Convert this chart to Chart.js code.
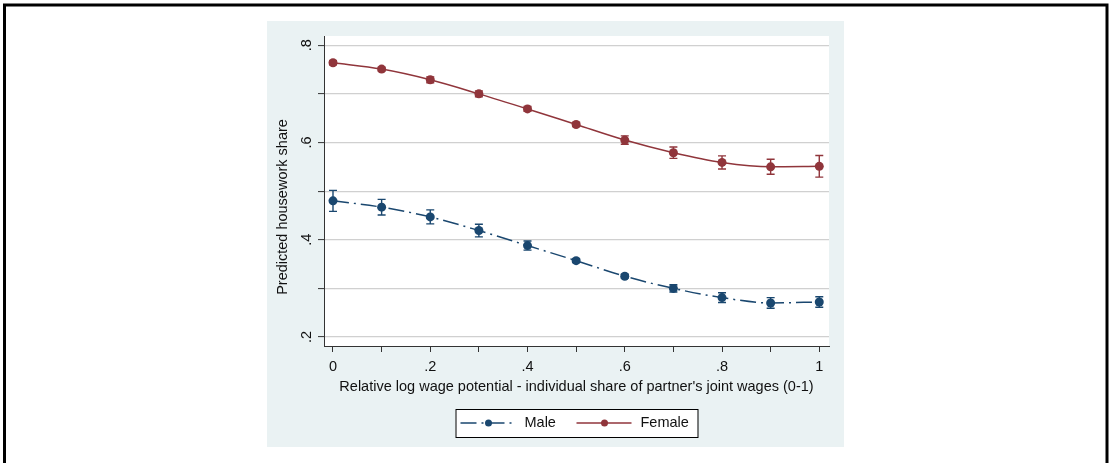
<!DOCTYPE html>
<html>
<head>
<meta charset="utf-8">
<script src="https://cdn.jsdelivr.net/npm/chart.js@4"></script>
<style>
  html, body { margin: 0; padding: 0; background: #fff; }
  canvas { display: block; }
</style>
</head>
<body>
<canvas id="chart" width="1109" height="463"></canvas>
<script>
// data
const xValues = [0, 0.1, 0.2, 0.3, 0.4, 0.5, 0.6, 0.7, 0.8, 0.9, 1];
const maleMean = [0.480, 0.467, 0.447, 0.419, 0.388, 0.357, 0.325, 0.300, 0.281, 0.270, 0.272];
const maleErr = [0.0216, 0.016, 0.0144, 0.013, 0.0093, 0.004, 0.004, 0.0075, 0.010, 0.011, 0.0107];
const femaleMean = [0.764, 0.751, 0.729, 0.700, 0.669, 0.637, 0.605, 0.579, 0.559, 0.550, 0.551];
const femaleErr = [0.004, 0.004, 0.006, 0.006, 0.005, 0.004, 0.0086, 0.0117, 0.0134, 0.0154, 0.0223];

const xTickValues = [0, 0.1, 0.2, 0.3, 0.4, 0.5, 0.6, 0.7, 0.8, 0.9, 1];
const xTickLabels = ['0', '', '.2', '', '.4', '', '.6', '', '.8', '', '1'];
const yTickValues = [0.2, 0.3, 0.4, 0.5, 0.6, 0.7, 0.8];
const yLabelValues = [0.2, 0.4, 0.6, 0.8];
const yLabelTexts = ['.2', '.4', '.6', '.8'];

const seriesNames = ['Male', 'Female'];
const xTitle = "Relative log wage potential - individual share of partner's joint wages (0-1)";
const yTitle = 'Predicted housework share';

const NAVY = 'rgb(26,71,111)';
const CRANBERRY = 'rgb(144,53,59)';
const PANEL = 'rgb(234,242,243)';
const FONT = "'Liberation Sans', Arial, sans-serif";
const FSIZE = 14.5;
const maleDash = [16, 5, 2, 5];

const points = arr => arr.map((v, i) => ({ x: xValues[i], y: v }));

// panel, frame, error bars, rotated y labels and the boxed legend
const stataLook = {
  id: 'stataLook',
  beforeDraw(chart) {
    const ctx = chart.ctx;
    const a = chart.chartArea;
    ctx.save();
    ctx.fillStyle = '#fff';
    ctx.fillRect(0, 0, chart.width, chart.height);
    ctx.fillStyle = PANEL;
    ctx.fillRect(267, 21, 577, 426);
    ctx.fillStyle = '#fff';
    ctx.fillRect(a.left, a.top, a.right - a.left, a.bottom - a.top);
    ctx.strokeStyle = '#000';
    ctx.lineWidth = 3;
    ctx.strokeRect(4.5, 5, 1102.5, 480);
    ctx.restore();
  },
  beforeDatasetsDraw(chart) {
    const ctx = chart.ctx;
    const xs = chart.scales.x, ys = chart.scales.y;
    ctx.save();
    chart.data.datasets.forEach(ds => {
      ctx.strokeStyle = ds.borderColor;
      ctx.lineWidth = 1.4;
      ds.data.forEach((p, i) => {
        const px = xs.getPixelForValue(p.x);
        const lo = ys.getPixelForValue(p.y - ds.err[i]);
        const hi = ys.getPixelForValue(p.y + ds.err[i]);
        ctx.beginPath();
        ctx.moveTo(px, lo); ctx.lineTo(px, hi);
        ctx.moveTo(px - 4, lo); ctx.lineTo(px + 4, lo);
        ctx.moveTo(px - 4, hi); ctx.lineTo(px + 4, hi);
        ctx.stroke();
      });
    });
    ctx.restore();
  },
  afterDraw(chart) {
    const ctx = chart.ctx;
    const a = chart.chartArea;
    const ys = chart.scales.y;
    ctx.save();
    ctx.fillStyle = '#111';
    ctx.font = FSIZE + 'px ' + FONT;
    ctx.textAlign = 'center';
    ctx.textBaseline = 'middle';
    yLabelValues.forEach((v, i) => {
      ctx.save();
      ctx.translate(a.left - 17, ys.getPixelForValue(v));
      ctx.rotate(-Math.PI / 2);
      ctx.fillText(yLabelTexts[i], 0, 0);
      ctx.restore();
    });
    ctx.save();
    ctx.translate(a.left - 41, (a.top + a.bottom) / 2 + 16);
    ctx.rotate(-Math.PI / 2);
    ctx.fillText(yTitle, 0, 0);
    ctx.restore();

    // legend box
    const cx = (a.left + a.right) / 2;
    const bx = cx - 121, by = 409, bw = 242, bh = 28;
    const my = by + bh / 2;
    ctx.fillStyle = '#fff';
    ctx.fillRect(bx, by, bw, bh);
    ctx.strokeStyle = '#000';
    ctx.lineWidth = 1;
    ctx.strokeRect(bx + 0.5, by + 0.5, bw, bh);
    const items = [
      { color: NAVY, dash: maleDash, x0: bx + 5, text: seriesNames[0] },
      { color: CRANBERRY, dash: [], x0: bx + 121, text: seriesNames[1] }
    ];
    items.forEach(it => {
      ctx.strokeStyle = it.color;
      ctx.lineWidth = 1.5;
      ctx.setLineDash(it.dash);
      ctx.beginPath();
      ctx.moveTo(it.x0, my); ctx.lineTo(it.x0 + 55, my);
      ctx.stroke();
      ctx.setLineDash([]);
      ctx.fillStyle = it.color;
      ctx.beginPath();
      ctx.arc(it.x0 + 28, my, 3.5, 0, Math.PI * 2);
      ctx.fill();
      ctx.fillStyle = '#111';
      ctx.textAlign = 'left';
      ctx.fillText(it.text, it.x0 + 64, my);
    });
    ctx.restore();
  }
};

new Chart(document.getElementById('chart'), {
  type: 'line',
  data: {
    datasets: [
      {
        label: seriesNames[0],
        data: points(maleMean),
        err: maleErr,
        borderColor: NAVY,
        backgroundColor: NAVY,
        borderWidth: 1.5,
        borderDash: maleDash,
        pointRadius: 4.5,
        pointBorderWidth: 0,
        cubicInterpolationMode: 'monotone',
        fill: false
      },
      {
        label: seriesNames[1],
        data: points(femaleMean),
        err: femaleErr,
        borderColor: CRANBERRY,
        backgroundColor: CRANBERRY,
        borderWidth: 1.5,
        pointRadius: 4.5,
        pointBorderWidth: 0,
        cubicInterpolationMode: 'monotone',
        fill: false
      }
    ]
  },
  options: {
    responsive: false,
    animation: false,
    layout: { padding: { left: 267, right: 280, top: 36, bottom: 67 } },
    plugins: {
      legend: { display: false },
      tooltip: { enabled: false }
    },
    scales: {
      x: {
        type: 'linear',
        min: -0.0185,
        max: 1.02,
        afterBuildTicks: s => { s.ticks = xTickValues.map(v => ({ value: v })); },
        afterFit: s => { s.height = 50; },
        ticks: {
          autoSkip: false,
          maxRotation: 0,
          padding: 6,
          color: '#111',
          font: { family: FONT, size: FSIZE },
          callback: (v, i) => xTickLabels[i]
        },
        grid: { drawOnChartArea: false, drawTicks: true, tickLength: 6, tickColor: '#333', tickWidth: 1 },
        border: { color: '#333', width: 1 },
        title: {
          display: true,
          text: xTitle,
          color: '#111',
          font: { family: FONT, size: FSIZE },
          padding: { top: 0, bottom: 0 }
        }
      },
      y: {
        type: 'linear',
        min: 0.1815,
        max: 0.819,
        afterBuildTicks: s => { s.ticks = yTickValues.map(v => ({ value: v })); },
        afterFit: s => { s.width = 57; },
        ticks: { display: false },
        grid: { color: 'rgb(208,208,208)', lineWidth: 1.2, drawTicks: true, tickLength: 6, tickColor: '#333', tickWidth: 1 },
        border: { color: '#333', width: 1 }
      }
    }
  },
  plugins: [stataLook]
});
</script>
</body>
</html>
